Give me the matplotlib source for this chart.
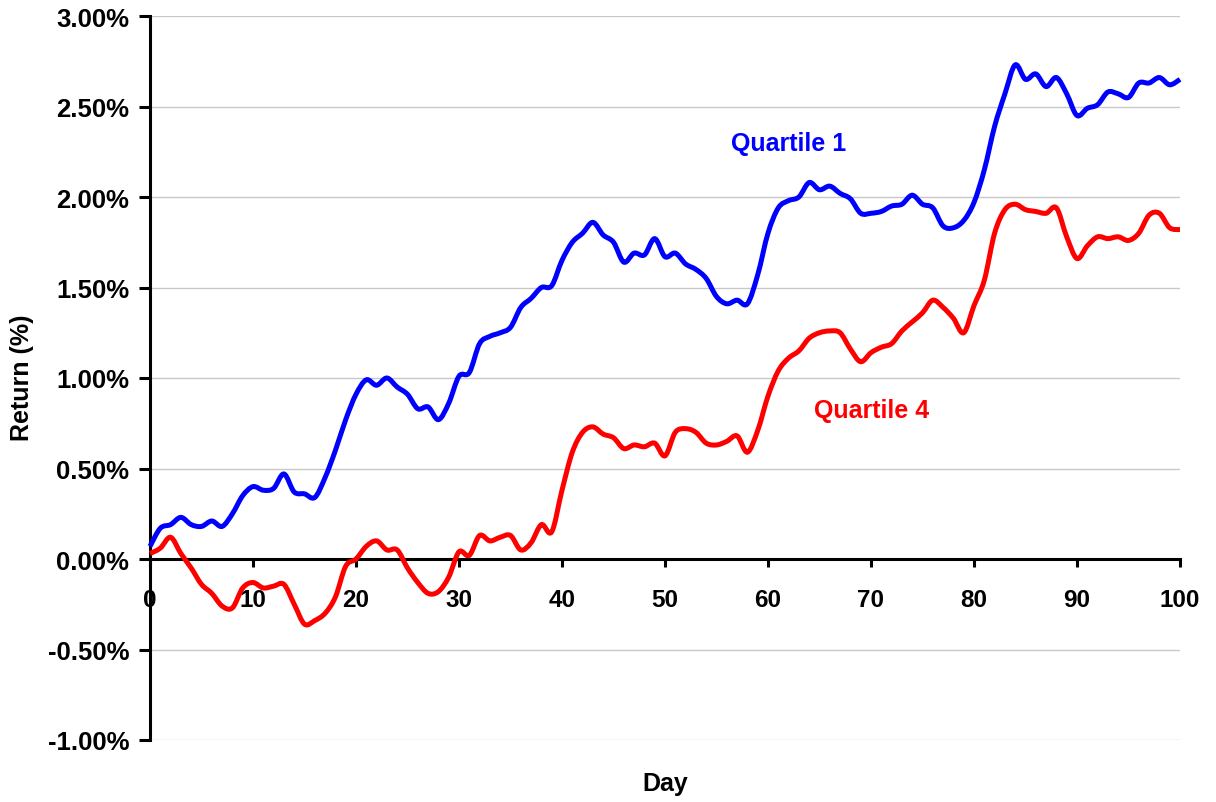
import matplotlib
matplotlib.use("Agg")
import matplotlib.pyplot as plt
from matplotlib.ticker import FuncFormatter
from matplotlib.path import Path
from matplotlib.patches import PathPatch
import numpy as np

days = list(range(0, 101))
quartile1 = [0.07, 0.17, 0.19, 0.23, 0.19, 0.18, 0.21, 0.18, 0.25, 0.35,
             0.40, 0.38, 0.39, 0.47, 0.37, 0.36, 0.34, 0.45, 0.60, 0.77,
             0.91, 0.99, 0.96, 1.00, 0.95, 0.91, 0.83, 0.84, 0.77, 0.86,
             1.01, 1.03, 1.19, 1.23, 1.25, 1.28, 1.39, 1.44, 1.50, 1.51,
             1.65, 1.75, 1.80, 1.86, 1.79, 1.75, 1.64, 1.69, 1.68, 1.77,
             1.67, 1.69, 1.63, 1.60, 1.55, 1.45, 1.41, 1.43, 1.41, 1.57,
             1.80, 1.94, 1.98, 2.00, 2.08, 2.04, 2.06, 2.02, 1.99, 1.91,
             1.91, 1.92, 1.95, 1.96, 2.01, 1.96, 1.94, 1.84, 1.83, 1.87,
             1.97, 2.15, 2.39, 2.57, 2.73, 2.65, 2.68, 2.61, 2.66, 2.57,
             2.45, 2.49, 2.51, 2.58, 2.57, 2.55, 2.63, 2.63, 2.66, 2.62,
             2.65]
quartile4 = [0.03, 0.06, 0.12, 0.03, -0.05, -0.14, -0.19, -0.26, -0.27, -0.16,
             -0.13, -0.16, -0.15, -0.14, -0.25, -0.36, -0.34, -0.30, -0.21, -0.04,
             0.00, 0.07, 0.10, 0.05, 0.05, -0.05, -0.13, -0.19, -0.18, -0.10,
             0.04, 0.02, 0.13, 0.10, 0.12, 0.13, 0.05, 0.09, 0.19, 0.15,
             0.38, 0.59, 0.70, 0.73, 0.69, 0.67, 0.61, 0.63, 0.62, 0.64,
             0.57, 0.70, 0.72, 0.70, 0.64, 0.63, 0.65, 0.68, 0.59, 0.71,
             0.90, 1.04, 1.11, 1.15, 1.22, 1.25, 1.26, 1.25, 1.16, 1.09,
             1.14, 1.17, 1.19, 1.26, 1.31, 1.36, 1.43, 1.39, 1.33, 1.25,
             1.40, 1.54, 1.80, 1.93, 1.96, 1.93, 1.92, 1.91, 1.94, 1.78,
             1.66, 1.73, 1.78, 1.77, 1.78, 1.76, 1.80, 1.90, 1.91, 1.83,
             1.82]
series_labels = ["Quartile 1", "Quartile 4"]
series_colors = ["#0000FF", "#FF0000"]
x_ticks = list(range(0, 101, 10))
y_ticks = [-1.0, -0.5, 0.0, 0.5, 1.0, 1.5, 2.0, 2.5, 3.0]

plt.rcParams['font.family'] = ['Liberation Sans', 'DejaVu Sans']
plt.rcParams['font.weight'] = 'bold'


def smooth_path(x, y):
    """Excel-style smoothed line: cubic Bezier segments through the data points."""
    x = np.asarray(x, float)
    y = np.asarray(y, float)
    n = len(x)
    verts = [(x[0], y[0])]
    codes = [Path.MOVETO]
    for i in range(n - 1):
        p0 = (x[max(i - 1, 0)], y[max(i - 1, 0)])
        p1 = (x[i], y[i])
        p2 = (x[i + 1], y[i + 1])
        p3 = (x[min(i + 2, n - 1)], y[min(i + 2, n - 1)])
        c1 = (p1[0] + (p2[0] - p0[0]) / 6, p1[1] + (p2[1] - p0[1]) / 6)
        c2 = (p2[0] - (p3[0] - p1[0]) / 6, p2[1] - (p3[1] - p1[1]) / 6)
        verts += [c1, c2, p2]
        codes += [Path.CURVE4] * 3
    return Path(verts, codes)


fig = plt.figure(figsize=(12.16, 8.03), dpi=100)
ax = fig.add_axes([150/1216, 1-741/803, (1180-150)/1216, (741-17)/803])

for vals, col in zip([quartile1, quartile4], series_colors):
    patch = PathPatch(smooth_path(days, vals), facecolor='none', edgecolor=col,
                      lw=3.6, joinstyle='round', capstyle='butt', zorder=3, clip_on=False)
    ax.add_patch(patch)

ax.set_xlim(0, 100)
ax.set_ylim(-1.0, 3.0)
ax.set_xticks(x_ticks)
ax.set_yticks(y_ticks)
ax.yaxis.set_major_formatter(FuncFormatter(lambda v, p: f"{v:.2f}%"))

for s in ['top', 'right']:
    ax.spines[s].set_visible(False)
ax.spines['bottom'].set_position(('data', 0))
ax.spines['bottom'].set_linewidth(2.2)
ax.spines['left'].set_linewidth(2.2)
ax.spines['bottom'].set_zorder(2)

ax.tick_params(axis='y', direction='out', length=8, width=2.2, labelsize=18.5, pad=7)
ax.tick_params(axis='x', direction='out', length=6, width=2.2, labelsize=17.5, pad=15)
for lab in ax.get_xticklabels() + ax.get_yticklabels():
    lab.set_fontweight('bold')

ax.grid(axis='y', color='#C8C8C8', lw=1.0, zorder=0)
ax.set_axisbelow(True)

fig.text(22/1216, 1-378/803, "Return (%)", rotation=90, ha='center', va='center',
         fontsize=18, fontweight='bold')
fig.text(665/1216, 1-784/803, "Day", ha='center', va='center',
         fontsize=18, fontweight='bold')

fig.text(789/1216, 1-144/803, series_labels[0], color=series_colors[0],
         fontsize=18, fontweight='bold', ha='center', va='center')
fig.text(872/1216, 1-411/803, series_labels[1], color=series_colors[1],
         fontsize=18, fontweight='bold', ha='center', va='center')

fig.savefig("out.png", dpi=100)
